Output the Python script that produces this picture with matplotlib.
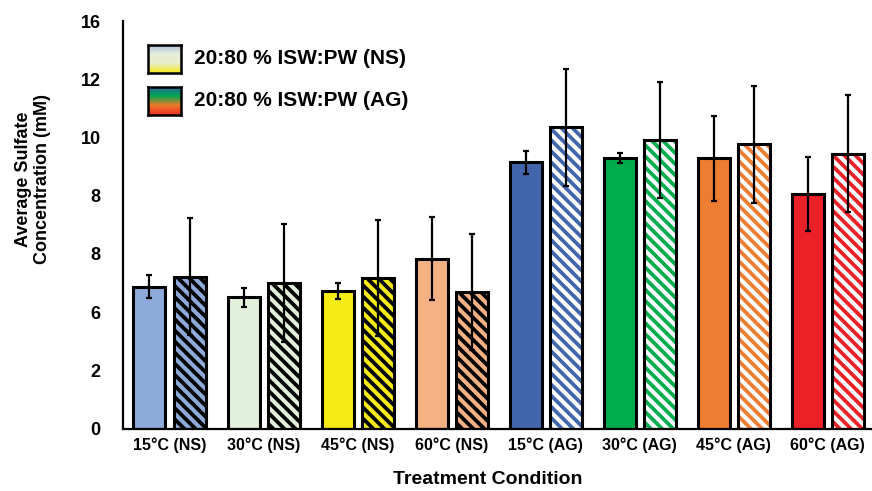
import numpy as np
import matplotlib.pyplot as plt
from matplotlib.colors import LinearSegmentedColormap
from matplotlib import font_manager

# Data (axis runs 0..16)
categories = ['15°C (NS)', '30°C (NS)', '45°C (NS)', '60°C (NS)',
              '15°C (AG)', '30°C (AG)', '45°C (AG)', '60°C (AG)']
solid_means = [5.57, 5.15, 5.40, 6.67, 10.45, 10.62, 10.62, 9.21]
solid_errs = [0.45, 0.37, 0.32, 1.62, 0.46, 0.20, 1.67, 1.44]
hatch_means = [5.96, 5.72, 5.92, 5.36, 11.83, 11.33, 11.17, 10.79]
hatch_errs = [2.30, 2.30, 2.27, 2.29, 2.29, 2.29, 2.30, 2.30]
bar_colors = ['#8eaadb', '#e2efda', '#f6eb14', '#f4b183',
              '#4266ac', '#00ac4c', '#ed7d31', '#ec2027']
ytick_labels = ['0', '2', '6', '8', '8', '10', '12', '16']
legend_labels = ['20:80 % ISW:PW (NS)', '20:80 % ISW:PW (AG)']
ns_gradient = ['#a9bcd8', '#e4eddb', '#e8eec8', '#f5ea1a']
ag_gradient = ['#2f5fae', '#00a650', '#f07a2a', '#ee2a24']

names = {f.name for f in font_manager.fontManager.ttflist}
font = 'Liberation Sans Narrow' if 'Liberation Sans Narrow' in names else 'Liberation Sans'
plt.rcParams['font.family'] = [font, 'DejaVu Sans']
plt.rcParams['hatch.linewidth'] = 2.7

fig = plt.figure(figsize=(8.72, 4.91), dpi=100)
ax = fig.add_axes([0.141, 0.127, 0.859, 0.83])

x = np.arange(len(categories))
w = 0.34
off = 0.213
for i in range(len(categories)):
    c = bar_colors[i]
    ax.bar(x[i] - off, solid_means[i], w, color=c, edgecolor='black',
           linewidth=2.2, zorder=2)
    if i < 4:
        bg, hc = c, 'black'
    else:
        bg, hc = 'white', c
    ax.bar(x[i] + off, hatch_means[i], w, color=bg, edgecolor=hc,
           hatch='\\\\\\', linewidth=0, zorder=2)
    ax.bar(x[i] + off, hatch_means[i], w, color='none', edgecolor='black',
           linewidth=2.2, zorder=3)

ax.errorbar(x - off, solid_means, yerr=solid_errs, fmt='none', ecolor='black',
            elinewidth=1.6, capsize=2.2, capthick=1.6, zorder=4)
ax.errorbar(x + off, hatch_means, yerr=hatch_errs, fmt='none', ecolor='black',
            elinewidth=1.6, capsize=2.2, capthick=1.6, zorder=4)

ax.set_xlim(-0.495, 7.47)
ax.set_ylim(0, 16)
ax.set_yticks(np.linspace(0, 16, 8))
ax.set_yticklabels(ytick_labels, fontsize=13, fontweight='bold')
ax.set_xticks(x)
ax.set_xticklabels(categories, fontsize=11.5, fontweight='bold')
ax.tick_params(axis='y', length=0, pad=16)
ax.tick_params(axis='x', length=0, pad=6)
for s in ['top', 'right']:
    ax.spines[s].set_visible(False)
for s in ['left', 'bottom']:
    ax.spines[s].set_linewidth(1.6)
ax.set_xlabel('Treatment Condition', fontsize=14, fontweight='bold')
ax.xaxis.set_label_coords(0.487, -0.105)
fig.text(0.038, 0.635, 'Average Sulfate\nConcentration (mM)', rotation=90,
         ha='center', va='center', fontsize=13, fontweight='bold',
         linespacing=1.2)

# legend with gradient swatches
grad = np.linspace(0, 1, 100).reshape(-1, 1)
boxes = [(0.1697, 0.8513), (0.1697, 0.7658)]
for (bx, by), cols, lab in zip(boxes, [ns_gradient, ag_gradient], legend_labels):
    lax = fig.add_axes([bx, by, 0.0378, 0.058])
    cmap = LinearSegmentedColormap.from_list('g', cols)
    lax.imshow(grad, aspect='auto', cmap=cmap)
    lax.set_xticks([])
    lax.set_yticks([])
    for sp in lax.spines.values():
        sp.set_linewidth(1.8)
    fig.text(bx + 0.053, by + 0.029, lab, ha='left', va='center',
             fontsize=15, fontweight='bold')

plt.savefig('out.png', dpi=100)
